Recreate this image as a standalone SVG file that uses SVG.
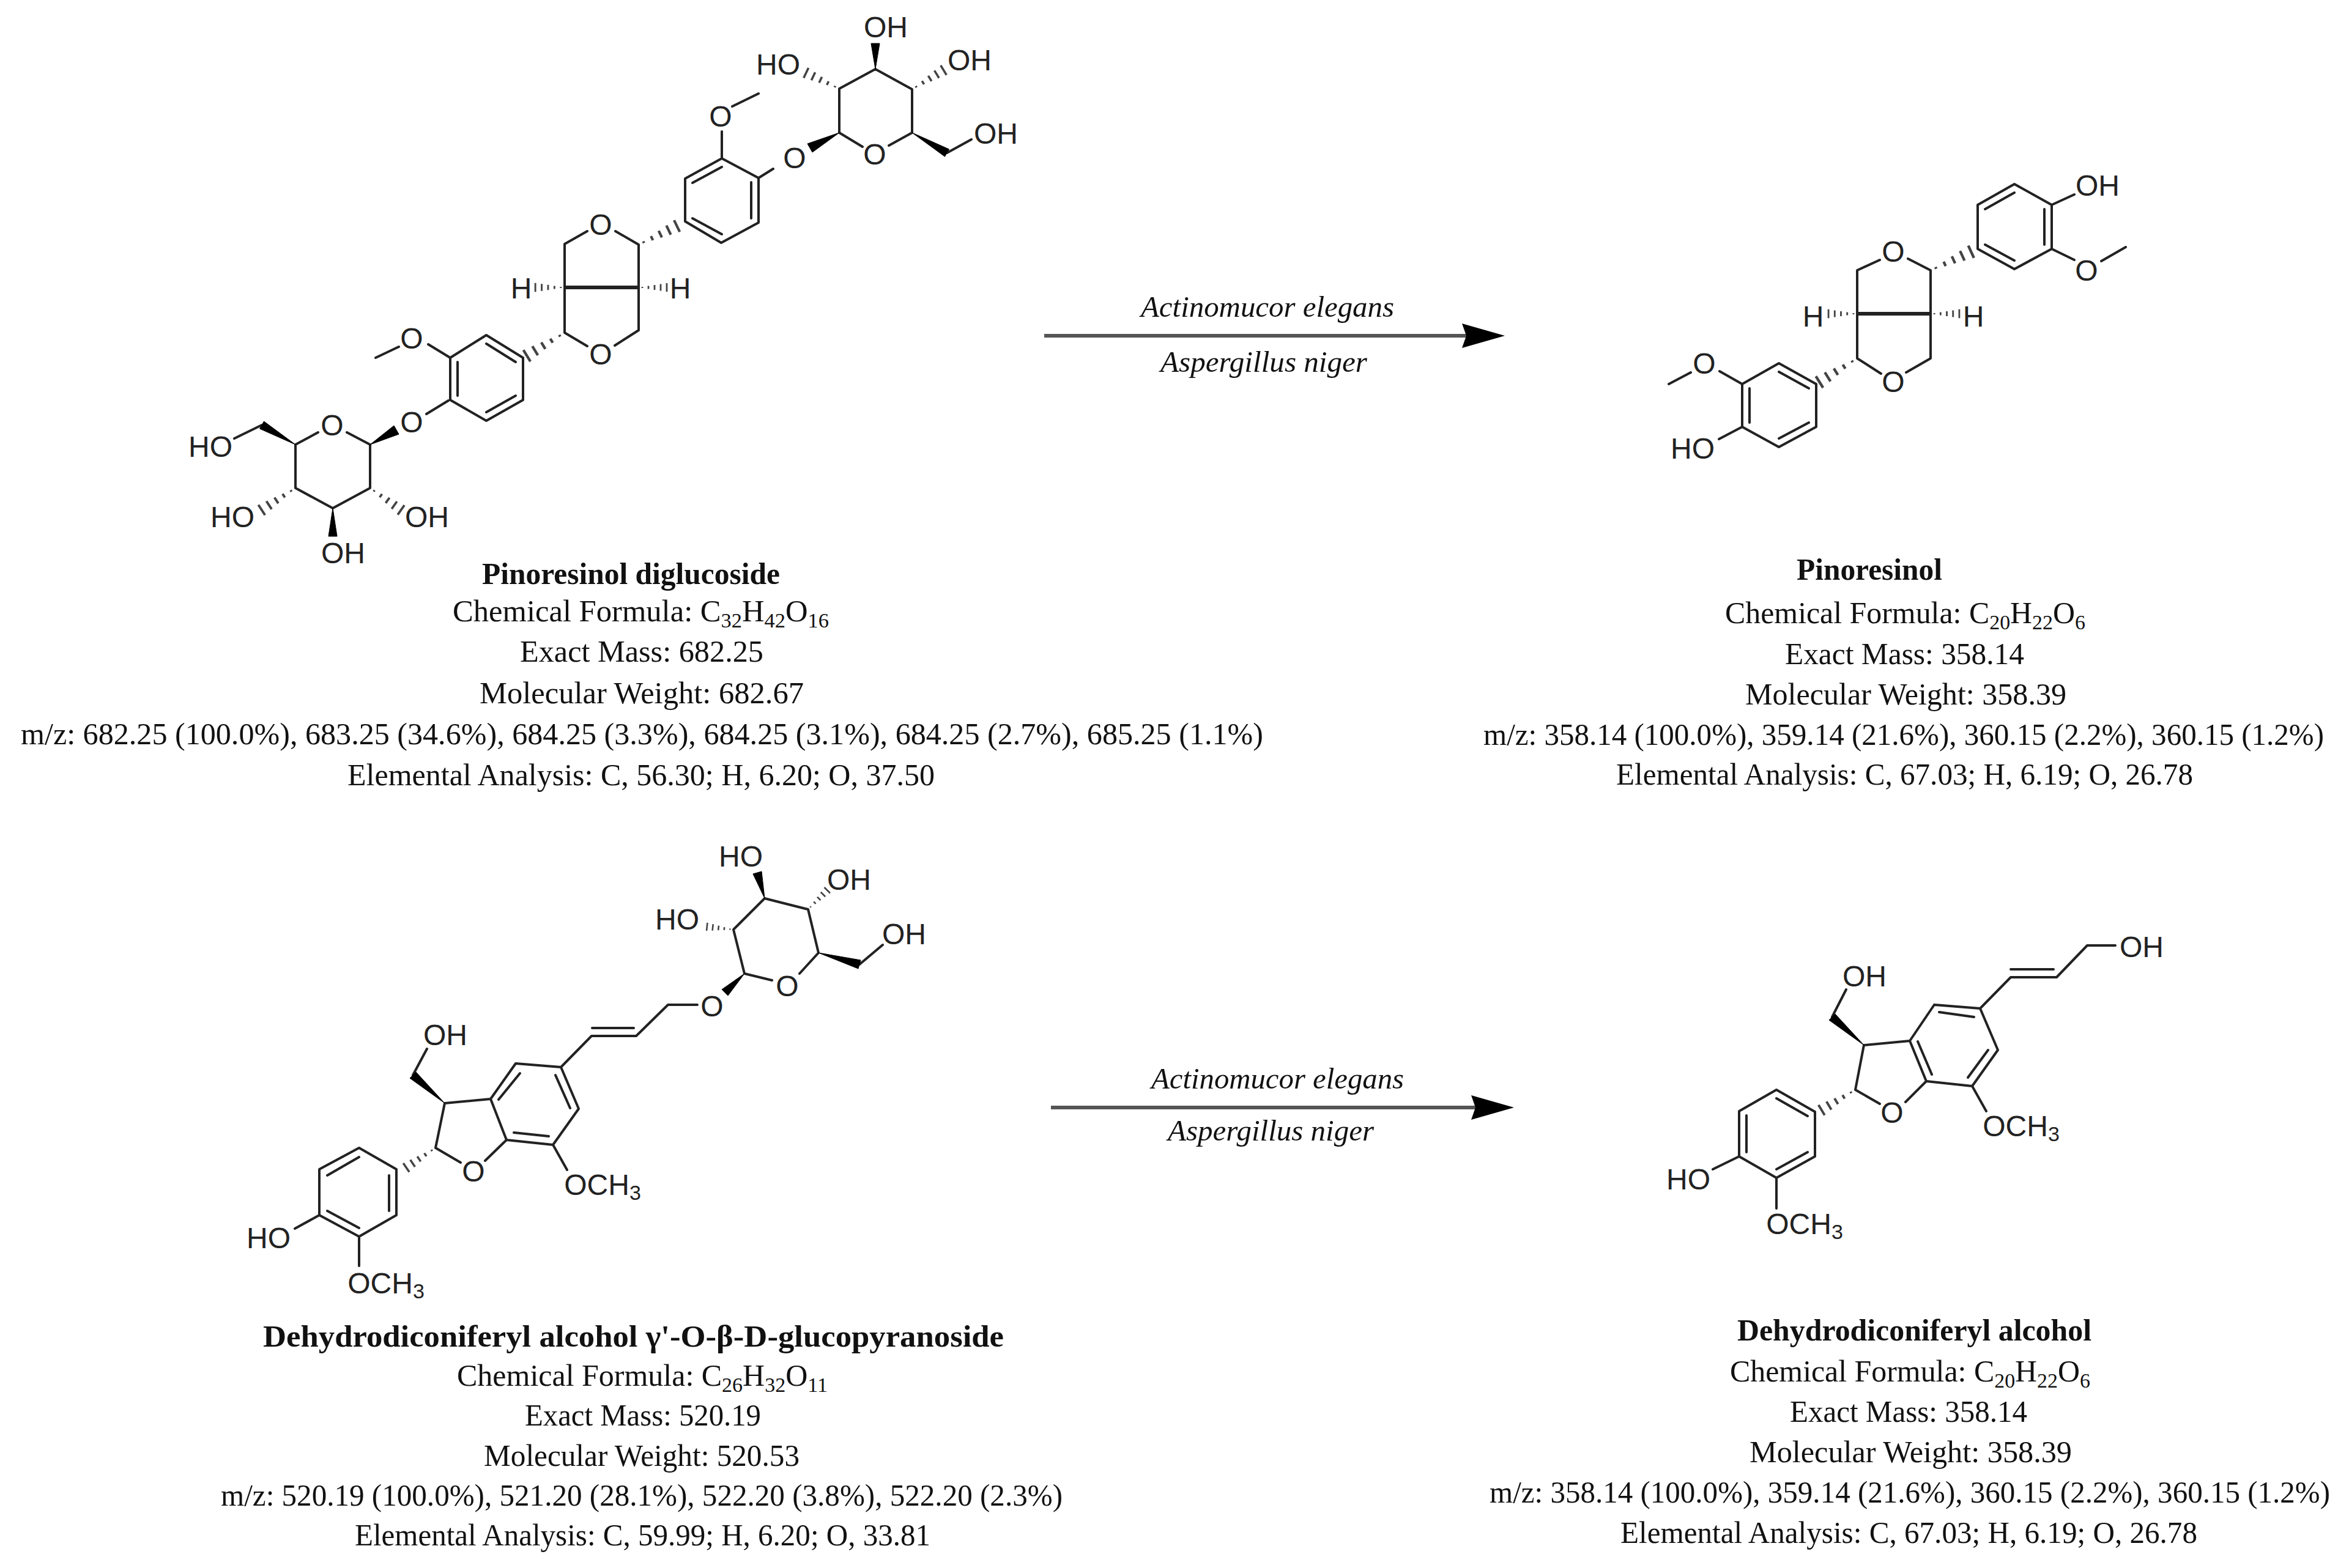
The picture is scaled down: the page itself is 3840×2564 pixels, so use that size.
<svg xmlns="http://www.w3.org/2000/svg" xmlns:xlink="http://www.w3.org/1999/xlink" width="3840" height="2564" viewBox="0 0 3840 2564">
<style>
.bond{fill:none;stroke:#222;stroke-width:4;stroke-linecap:round;stroke-linejoin:round}
.bold{fill:none;stroke:#222;stroke-width:6}
.w{fill:#000;stroke:#000;stroke-width:1;stroke-linejoin:round}
.atom{font-family:"Liberation Sans",Arial,sans-serif;font-size:48px;fill:#222;text-anchor:middle}
.sub{font-size:34px}
.info{font-family:"Liberation Serif","Times New Roman",serif;font-size:50px;fill:#111}
.title{font-weight:bold}
.org{font-family:"Liberation Serif","Times New Roman",serif;font-size:48px;font-style:italic;fill:#111}
.arrow{stroke:#555;stroke-width:6;fill:none;marker-end:url(#head)}
</style>
<defs>
<marker id="head" markerUnits="userSpaceOnUse" markerWidth="80" markerHeight="44" refX="10" refY="20" orient="auto"><path d="M0 0L70 20L0 40L7 20Z" fill="#000"/></marker>
<path id="hash" d="M12-2V2M32-5V5M52-8V8M72-11V11M92-14V14" fill="none" stroke="#444" stroke-width="5.5"/>
</defs>
<rect width="3840" height="2564" fill="#fff"/>

<g id="connectors">
<path class="arrow" d="M1707 549H2400"/>
<path class="arrow" d="M1718 1811H2415"/>
</g>

<g id="arrow-labels">
<text class="org" x="1865" y="518" textLength="414" lengthAdjust="spacingAndGlyphs">Actinomucor elegans</text>
<text class="org" x="1897" y="608" textLength="338" lengthAdjust="spacingAndGlyphs">Aspergillus niger</text>
<text class="org" x="1882" y="1780" textLength="413" lengthAdjust="spacingAndGlyphs">Actinomucor elegans</text>
<text class="org" x="1909" y="1865" textLength="337" lengthAdjust="spacingAndGlyphs">Aspergillus niger</text>
</g>

<g id="pinoresinol-diglucoside">
<path class="bond" d="M1410 240L1372 217V145L1431 113L1491 146V217L1453 238M1548 250L1588 228M1264 276L1240 291V364L1179 397L1120 362V292L1180 259L1240 291M1180 273L1132 299M1132 357L1180 383M1228 298V357M1180 259V215M1197 174L1240 153M960 378L923 399V544L960 566M1006 378L1044 400V540L1005 565M855 585L795 548L736 585V654L795 688L855 654V585M795 562L843 592M748 592V647M795 674L843 647M736 585L700 563M652 567L614 585M733 655L697 677M567 707L605 727V798L544 831L483 798V727L520 707M428 695L383 717"/>
<path class="bold" d="M923 470H1044"/>
<polygon class="w" points="1431,113 1424,71 1438,71"/>
<polygon class="w" points="1491,217 1544.500,256 1551.500,244"/>
<polygon class="w" points="1372,217 1328,249 1320,235"/>
<polygon class="w" points="605,727 652,710 644,696"/>
<polygon class="w" points="483,727 424.500,701 431.500,689"/>
<polygon class="w" points="544,831 537,877 551,877"/>
<use xlink:href="#hash" href="#hash" transform="matrix(-.59 -.28 .28 -.59 1372 145)"/>
<use xlink:href="#hash" href="#hash" transform="matrix(.56 -.34 .34 .56 1491 146)"/>
<use xlink:href="#hash" href="#hash" transform="matrix(.68 -.33 .33 .68 1044 400)"/>
<use xlink:href="#hash" href="#hash" transform="matrix(-.67 .41 -.41 -.67 923 544)"/>
<use xlink:href="#hash" href="#hash" transform="matrix(-.52 0 0 -.52 923 470)"/>
<use xlink:href="#hash" href="#hash" transform="matrix(.5 0 0 .5 1044 470)"/>
<use xlink:href="#hash" href="#hash" transform="matrix(-.6 .39 -.39 -.6 483 798)"/>
<use xlink:href="#hash" href="#hash" transform="matrix(.55 .39 -.39 .55 605 798)"/>
<text class="atom" x="1448" y="61">OH</text><text class="atom" x="1272" y="122">HO</text><text class="atom" x="1585" y="115">OH</text><text class="atom" x="1628" y="235">OH</text>
<text class="atom" x="1430" y="269">O</text><text class="atom" x="1299" y="275">O</text><text class="atom" x="1178" y="207">O</text><text class="atom" x="982" y="384">O</text><text class="atom" x="982" y="596">O</text>
<text class="atom" x="852" y="488">H</text><text class="atom" x="1112" y="488">H</text><text class="atom" x="673" y="570">O</text><text class="atom" x="673" y="707">O</text><text class="atom" x="543" y="712">O</text>
<text class="atom" x="344" y="747">HO</text><text class="atom" x="380" y="862">HO</text><text class="atom" x="698" y="862">OH</text><text class="atom" x="561" y="921">OH</text>
<text class="info title" x="788" y="955" textLength="487" lengthAdjust="spacingAndGlyphs">Pinoresinol diglucoside</text>
<text class="info" x="740" y="1016" textLength="615" lengthAdjust="spacingAndGlyphs">Chemical Formula: C<tspan class="sub" dy="10">32</tspan><tspan dy="-10">H</tspan><tspan class="sub" dy="10">42</tspan><tspan dy="-10">O</tspan><tspan class="sub" dy="10">16</tspan></text>
<text class="info" x="850" y="1082" textLength="398" lengthAdjust="spacingAndGlyphs">Exact Mass: 682.25</text>
<text class="info" x="784" y="1150" textLength="530" lengthAdjust="spacingAndGlyphs">Molecular Weight: 682.67</text>
<text class="info" x="34" y="1217" textLength="2031" lengthAdjust="spacingAndGlyphs">m/z: 682.25 (100.0%), 683.25 (34.6%), 684.25 (3.3%), 684.25 (3.1%), 684.25 (2.7%), 685.25 (1.1%)</text>
<text class="info" x="568" y="1284" textLength="960" lengthAdjust="spacingAndGlyphs">Elemental Analysis: C, 56.30; H, 6.20; O, 37.50</text>
</g>

<g id="pinoresinol">
<path class="bond" d="M3233 335L3293 301L3354 335V407L3293 440L3233 407V335M3245 342L3293 315M3245 400L3293 426M3342 342V400M3354 335L3391 318M3354 407L3391 425M3435 427L3475 404M3073 425L3036 442V586L3075 611M3119 423L3156 442V586L3116 609M2969 628L2908 594L2848 628V698L2908 731L2969 698V628M2908 608L2957 635M2860 635V691M2908 717L2957 691M2848 628L2811 607M2764 609L2728 628M2848 698L2810 718"/>
<path class="bold" d="M3036 513H3156"/>
<use xlink:href="#hash" href="#hash" transform="matrix(.72 -.33 .33 .72 3156 442)"/>
<use xlink:href="#hash" href="#hash" transform="matrix(-.67 .42 -.42 -.67 3036 586)"/>
<use xlink:href="#hash" href="#hash" transform="matrix(-.51 0 0 -.51 3036 513)"/>
<use xlink:href="#hash" href="#hash" transform="matrix(.51 0 0 .51 3156 513)"/>
<text class="atom" x="3429" y="320">OH</text><text class="atom" x="3411" y="459">O</text><text class="atom" x="3095" y="428">O</text><text class="atom" x="3095" y="641">O</text>
<text class="atom" x="2964" y="534">H</text><text class="atom" x="3226" y="534">H</text><text class="atom" x="2786" y="611">O</text><text class="atom" x="2767" y="750">HO</text>
<text class="info title" x="2937" y="948" textLength="238" lengthAdjust="spacingAndGlyphs">Pinoresinol</text>
<text class="info" x="2820" y="1019" textLength="589" lengthAdjust="spacingAndGlyphs">Chemical Formula: C<tspan class="sub" dy="10">20</tspan><tspan dy="-10">H</tspan><tspan class="sub" dy="10">22</tspan><tspan dy="-10">O</tspan><tspan class="sub" dy="10">6</tspan></text>
<text class="info" x="2918" y="1086" textLength="391" lengthAdjust="spacingAndGlyphs">Exact Mass: 358.14</text>
<text class="info" x="2853" y="1152" textLength="525" lengthAdjust="spacingAndGlyphs">Molecular Weight: 358.39</text>
<text class="info" x="2425" y="1218" textLength="1374" lengthAdjust="spacingAndGlyphs">m/z: 358.14 (100.0%), 359.14 (21.6%), 360.15 (2.2%), 360.15 (1.2%)</text>
<text class="info" x="2642" y="1283" textLength="943" lengthAdjust="spacingAndGlyphs">Elemental Analysis: C, 67.03; H, 6.19; O, 26.78</text>
</g>

<g id="dehydrodiconiferyl-alcohol-glucopyranoside">
<path class="bond" d="M1262 1603L1217 1592L1199 1520L1250 1469L1321 1487L1338 1558L1307 1592M1405 1577L1443 1545M1140 1643H1092L1040 1694H967L917 1745L843 1739L802 1797L828 1864L904 1872L946 1813L917 1745M968 1681H1036M908 1758L932 1812M850 1755L815 1798M840 1852L897 1858M802 1797L727 1804L712 1877L753 1901M793 1898L828 1864M675 1758L698 1715M904 1872L927 1913M648 1912L587 1877L522 1912V1987L587 2022L648 1987V1912M587 1892L535 1922M636 1922V1980M535 1980L587 2008M522 1987L482 2009M587 2022V2070"/>
<polygon class="w" points="1250,1469 1245,1425 1231,1429"/>
<polygon class="w" points="1338,1558 1403,1584 1407,1570"/>
<polygon class="w" points="1217,1592 1190,1628 1180,1618"/>
<polygon class="w" points="727,1804 670,1763 680,1753"/>
<use xlink:href="#hash" href="#hash" transform="matrix(.34 -.34 .34 .34 1321 1487)"/>
<use xlink:href="#hash" href="#hash" transform="matrix(-.47 -.05 .05 -.47 1199 1520)"/>
<use xlink:href="#hash" href="#hash" transform="matrix(-.52 .35 -.35 -.52 712 1877)"/>
<text class="atom" x="1211" y="1417">HO</text><text class="atom" x="1388" y="1455">OH</text><text class="atom" x="1107" y="1520">HO</text><text class="atom" x="1478" y="1544">OH</text>
<text class="atom" x="1287" y="1629">O</text><text class="atom" x="1164" y="1662">O</text><text class="atom" x="728" y="1709">OH</text><text class="atom" x="774" y="1932">O</text>
<text class="atom" x="985" y="1954">OCH<tspan class="sub" dy="8">3</tspan></text>
<text class="atom" x="439" y="2041">HO</text>
<text class="atom" x="631" y="2115">OCH<tspan class="sub" dy="8">3</tspan></text>
<text class="info title" x="430" y="2202" textLength="1211" lengthAdjust="spacingAndGlyphs">Dehydrodiconiferyl alcohol γ'-O-β-D-glucopyranoside</text>
<text class="info" x="747" y="2266" textLength="606" lengthAdjust="spacingAndGlyphs">Chemical Formula: C<tspan class="sub" dy="10">26</tspan><tspan dy="-10">H</tspan><tspan class="sub" dy="10">32</tspan><tspan dy="-10">O</tspan><tspan class="sub" dy="10">11</tspan></text>
<text class="info" x="858" y="2331" textLength="386" lengthAdjust="spacingAndGlyphs">Exact Mass: 520.19</text>
<text class="info" x="791" y="2397" textLength="516" lengthAdjust="spacingAndGlyphs">Molecular Weight: 520.53</text>
<text class="info" x="361" y="2462" textLength="1376" lengthAdjust="spacingAndGlyphs">m/z: 520.19 (100.0%), 521.20 (28.1%), 522.20 (3.8%), 522.20 (2.3%)</text>
<text class="info" x="580" y="2527" textLength="941" lengthAdjust="spacingAndGlyphs">Elemental Analysis: C, 59.99; H, 6.20; O, 33.81</text>
</g>

<g id="dehydrodiconiferyl-alcohol">
<path class="bond" d="M3237 1649L3162 1643L3122 1702L3149 1768L3224 1776L3266 1717L3237 1649M3227 1663L3170 1655M3135 1703L3158 1757M3217 1762L3250 1717M3122 1702L3047 1709L3033 1782L3073 1805M3115 1802L3149 1768M2995 1663L3018 1618M3224 1776L3247 1817M3237 1649L3287 1598H3362L3412 1546H3458M3287 1585H3357M2967 1818L2904 1782L2843 1817V1891L2904 1926L2967 1891V1818M2904 1796L2955 1825M2855 1824V1884M2904 1912L2955 1884M2843 1891L2800 1912M2904 1926V1976"/>
<polygon class="w" points="3047,1709 2990,1668 3000,1658"/>
<use xlink:href="#hash" href="#hash" transform="matrix(-.6 .36 -.36 -.6 3033 1782)"/>
<text class="atom" x="3048" y="1613">OH</text><text class="atom" x="3501" y="1565">OH</text><text class="atom" x="3093" y="1836">O</text>
<text class="atom" x="3304" y="1858">OCH<tspan class="sub" dy="8">3</tspan></text>
<text class="atom" x="2760" y="1945">HO</text>
<text class="atom" x="2950" y="2018">OCH<tspan class="sub" dy="8">3</tspan></text>
<text class="info title" x="2840" y="2192" textLength="579" lengthAdjust="spacingAndGlyphs">Dehydrodiconiferyl alcohol</text>
<text class="info" x="2828" y="2259" textLength="589" lengthAdjust="spacingAndGlyphs">Chemical Formula: C<tspan class="sub" dy="10">20</tspan><tspan dy="-10">H</tspan><tspan class="sub" dy="10">22</tspan><tspan dy="-10">O</tspan><tspan class="sub" dy="10">6</tspan></text>
<text class="info" x="2926" y="2325" textLength="388" lengthAdjust="spacingAndGlyphs">Exact Mass: 358.14</text>
<text class="info" x="2860" y="2391" textLength="527" lengthAdjust="spacingAndGlyphs">Molecular Weight: 358.39</text>
<text class="info" x="2435" y="2457" textLength="1374" lengthAdjust="spacingAndGlyphs">m/z: 358.14 (100.0%), 359.14 (21.6%), 360.15 (2.2%), 360.15 (1.2%)</text>
<text class="info" x="2649" y="2523" textLength="943" lengthAdjust="spacingAndGlyphs">Elemental Analysis: C, 67.03; H, 6.19; O, 26.78</text>
</g>
</svg>
